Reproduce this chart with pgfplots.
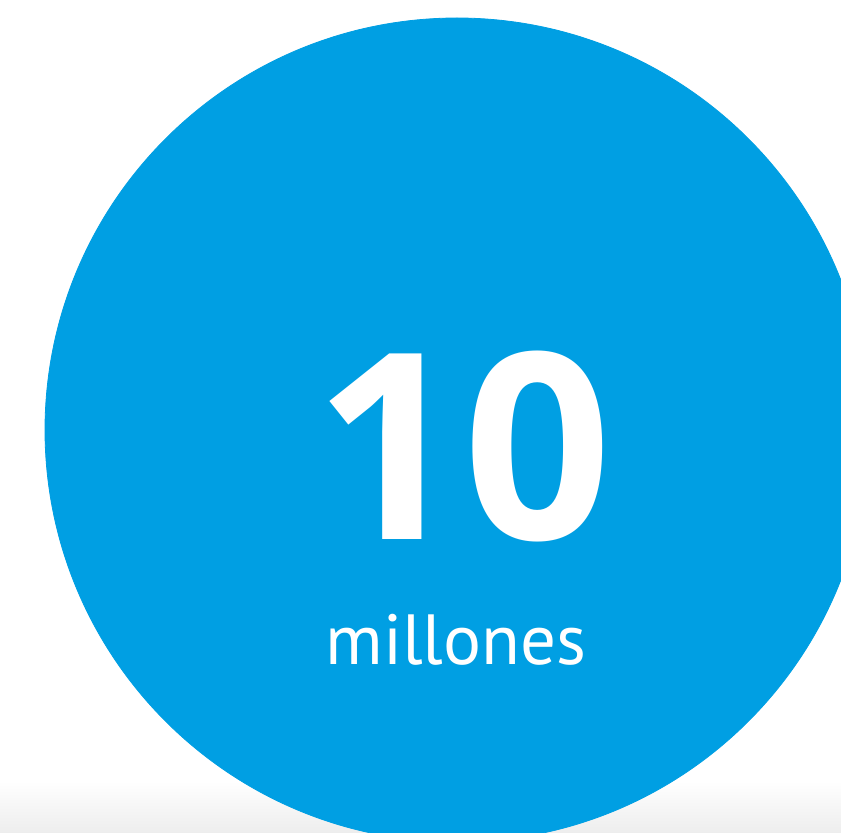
\documentclass[border=0pt]{standalone}
\usepackage{pgfplots}
\pgfplotsset{compat=1.18}
\usepackage{fontspec}
\setmainfont{PT Sans}
\newfontfamily\numfont{Open Sans}
\definecolor{azul}{RGB}{0,159,227}
\begin{document}
\begin{tikzpicture}
% 1 px of the reference = 0.5pt
\useasboundingbox (0,0) rectangle (420.5pt,416.5pt);
\clip (0,0) rectangle (420.5pt,416.5pt);
\fill[white] (0,0) rectangle (420.5pt,416.5pt);
\shade[top color=white, bottom color=black!7] (0,0) rectangle (420.5pt,26pt);
\begin{axis}[
  at={(0,0)}, anchor=south west,
  scale only axis,
  width=420.5pt, height=416.5pt,
  xmin=0, xmax=841,
  ymin=0, ymax=833,
  y dir=reverse,
  hide axis,
  clip=false,
]
% the circle
\addplot[only marks, mark=*, mark size=206pt, color=azul,
  mark options={draw=none, fill=azul}]
  coordinates {(457,430)};
\coordinate (big) at (axis cs:463,540);
\coordinate (small) at (axis cs:456,665);
\end{axis}
\node[anchor=base, text=white, inner sep=0pt,
  font=\numfont\bfseries\fontsize{130}{130}\selectfont] at (big) {10};
\node[anchor=base, text=white, inner sep=0pt,
  font=\fontsize{35.5}{35.5}\selectfont] at (small) {millones};
\end{tikzpicture}
\end{document}
